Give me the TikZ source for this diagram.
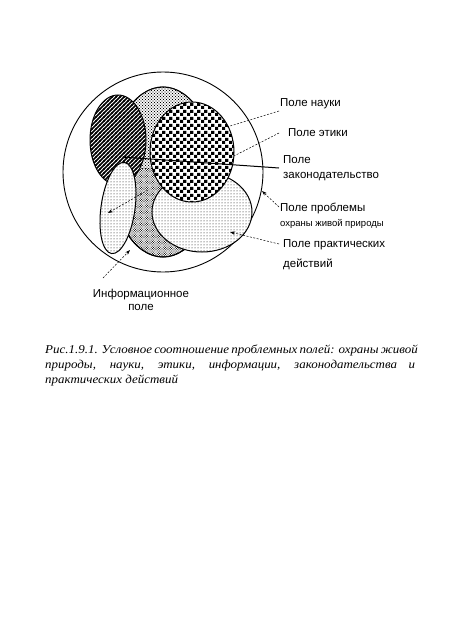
\documentclass[tikz,border=0pt]{standalone}
\usepackage{fontspec}
\setmainfont{Liberation Serif}
\newfontfamily\labfont{Liberation Sans}
\newfontfamily\capfont[FakeStretch=1.08]{Liberation Serif}
\usetikzlibrary{patterns,arrows.meta}

\pgfdeclarepatternformonly{mychecker}{\pgfqpoint{0pt}{0pt}}{\pgfqpoint{6.6pt}{6.6pt}}{\pgfqpoint{6.6pt}{6.6pt}}{%
 \pgfpathrectangle{\pgfqpoint{0pt}{0pt}}{\pgfqpoint{3.3pt}{3.3pt}}%
 \pgfpathrectangle{\pgfqpoint{3.3pt}{3.3pt}}{\pgfqpoint{3.3pt}{3.3pt}}%
 \pgfusepath{fill}}
\pgfdeclarepatternformonly{myhatch}{\pgfqpoint{-1pt}{-1pt}}{\pgfqpoint{5pt}{5pt}}{\pgfqpoint{4pt}{4pt}}{%
 \pgfsetlinewidth{1.5pt}%
 \pgfpathmoveto{\pgfqpoint{-0.5pt}{-0.5pt}}\pgfpathlineto{\pgfqpoint{4.5pt}{4.5pt}}\pgfusepath{stroke}}
\pgfdeclarepatternformonly{mydense}{\pgfqpoint{-0.7pt}{-0.7pt}}{\pgfqpoint{2.6pt}{2.6pt}}{\pgfqpoint{2.4pt}{2.4pt}}{%
 \pgfpathcircle{\pgfqpoint{0pt}{0pt}}{0.55pt}%
 \pgfpathcircle{\pgfqpoint{1.2pt}{1.2pt}}{0.55pt}\pgfusepath{fill}}
\pgfdeclarepatternformonly{mymed}{\pgfqpoint{-0.7pt}{-0.7pt}}{\pgfqpoint{3.2pt}{3.2pt}}{\pgfqpoint{3pt}{3pt}}{%
 \pgfpathcircle{\pgfqpoint{0pt}{0pt}}{0.55pt}%
 \pgfpathcircle{\pgfqpoint{1.5pt}{1.5pt}}{0.55pt}\pgfusepath{fill}}
\pgfdeclarepatternformonly{mylight}{\pgfqpoint{-0.6pt}{-0.6pt}}{\pgfqpoint{2.6pt}{2.6pt}}{\pgfqpoint{3pt}{3pt}}{%
 \pgfpathcircle{\pgfqpoint{0pt}{0pt}}{0.5pt}\pgfusepath{fill}}

\tikzset{
 outl/.style={draw=black, line width=1pt},
 lab/.style={font=\labfont\fontsize{11.5}{15}\selectfont, inner sep=0pt, anchor=west, align=left},
 dline/.style={draw=black, line width=0.5pt, dash pattern=on 2pt off 1.5pt},
 sline/.style={draw=black, line width=1pt},
 tip/.style={-{Stealth[length=5pt,width=3.5pt]}}
}

\begin{document}
\begin{tikzpicture}[x=1pt,y=-1pt]
\useasboundingbox (0,0) rectangle (450,629);
\fill[white] (0,0) rectangle (450,629);

% shapes
\draw[line width=0.9pt] (163,172) circle [radius=100];
\draw[outl, preaction={fill=white}, pattern=mydense] (163,172) ellipse [x radius=52, y radius=85];
\begin{scope}
 \clip (163,172) ellipse [x radius=52, y radius=85];
 \fill[white] (100,80) rectangle (230,168);
 \fill[pattern=mymed] (100,80) rectangle (230,168);
\end{scope}
\draw[outl] (163,172) ellipse [x radius=52, y radius=85];
\draw[outl, preaction={fill=white}, pattern=myhatch] (118,140) ellipse [x radius=28, y radius=45];
\draw[outl, preaction={fill=white}, pattern=mylight] (202,212) ellipse [x radius=50, y radius=40];
\draw[outl, preaction={fill=white}, pattern=mychecker] (192,152) ellipse [x radius=42, y radius=50];
\draw[outl, preaction={fill=white}, pattern=mylight] (118,208) ellipse [x radius=17, y radius=46, rotate=-8];

% labels
\node[lab] (nauka) at (280,104) {Поле науки};
\node[lab] (etika) at (288,133) {Поле этики};
\node[lab] (zakon) at (283,168) {Поле\\законодательство};
\node[lab] (probl) at (280,216) {Поле проблемы\\{\fontsize{9.5}{12}\selectfont охраны живой природы}};
\node[lab, font=\labfont\fontsize{11.5}{20}\selectfont] (prakt) at (283,255) {Поле практических\\действий};
\node[lab, align=center, anchor=north, font=\labfont\fontsize{11.5}{13}\selectfont] (inform) at (141,289) {Информационное\\поле};

% connector end points
\coordinate (cnauka) at (227,127);
\coordinate (snauka) at (279,111);
\coordinate (cetika) at (230,158);
\coordinate (setika) at (279,133);
\coordinate (czakon) at (122,157);
\coordinate (szakon) at (279,168);
\coordinate (cprobl) at (262,191);
\coordinate (sprobl) at (279,207);
\coordinate (cprakt) at (230,232);
\coordinate (sprakt) at (279,244);
\coordinate (cinf) at (130,250);
\coordinate (sinf) at (103,278);
\coordinate (cin2) at (108,213);
\coordinate (sin2) at (148,190);

% connectors
\draw[dline] (snauka) -- (cnauka);
\draw[dline] (setika) -- (cetika);
\draw[sline, tip] (szakon) -- (czakon);
\draw[dline, tip] (sprobl) -- (cprobl);
\draw[dline, tip] (sprakt) -- (cprakt);
\draw[dline, tip] (sinf) -- (cinf);
\draw[dline, tip] (sin2) -- (cin2);

% caption
\node[anchor=north west, inner sep=0pt, align=left, font=\capfont\fontsize{12}{15}\selectfont\itshape] (cap) at (45,345)
 {\makebox[370pt][s]{Рис.1.9.1. Условное соотношение проблемных полей: охраны живой}\\
  \makebox[370pt][s]{природы, науки, этики, информации, законодательства и}\\
  практических действий};
\end{tikzpicture}
\end{document}
